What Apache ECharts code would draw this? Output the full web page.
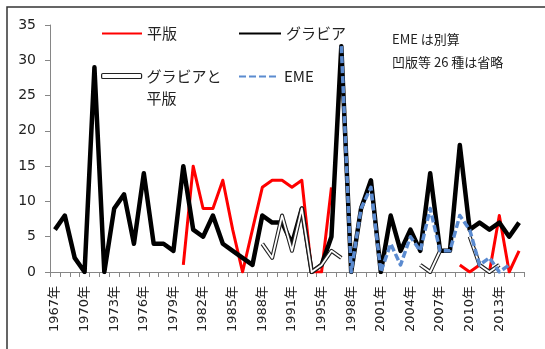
<!DOCTYPE html>
<html>
<head>
<meta charset="utf-8">
<script src="https://cdn.jsdelivr.net/npm/echarts@6/dist/echarts.min.js"></script>
<style>
html,body{margin:0;padding:0;background:#fff;}
#chart{width:545px;height:349px;}
</style>
</head>
<body>
<div id="chart"></div>
<script>
// categories (one year absent in the source table)
var years = ['1967年','1968年','1969年','1970年','1971年','1972年','1973年','1974年','1975年','1976年',
  '1977年','1978年','1979年','1980年','1981年','1982年','1983年','1984年','1985年','1986年',
  '1987年','1988年','1989年','1990年','1991年','1992年','1993年','1995年','1996年','1997年',
  '1998年','1999年','2000年','2001年','2002年','2003年','2004年','2005年','2006年','2007年',
  '2008年','2009年','2010年','2011年','2012年','2013年','2014年','2015年'];

// 平版 (lithography)
var heihan = [null,null,null,null,null,null,null,null,null,null,
  null,null,null,1,15,9,9,13,6,0,
  6,12,13,13,12,13,0,0,12,null,
  null,null,null,null,null,null,null,null,null,null,
  null,1,0,1,0,8,0,3];

// グラビア (gravure)
var gravure = [6,8,2,0,29,0,9,11,4,14,
  4,4,3,15,6,5,8,4,3,2,
  1,8,7,7,4,9,0,1,5,32,
  0,9,13,0,8,3,6,3,14,3,
  3,18,6,7,6,7,5,7];

// グラビアと平版 (gravure + lithography)
var gravHeihan = [null,null,null,null,null,null,null,null,null,null,
  null,null,null,null,null,null,null,null,null,null,
  null,4,2,8,3,9,0,1,3,2,
  null,null,null,null,null,null,null,1,0,3,
  null,null,5,1,0,1,null,null];

// EME
var eme = [null,null,null,null,null,null,null,null,null,null,
  null,null,null,null,null,null,null,null,null,null,
  null,null,null,null,null,null,null,null,null,32,
  0,9,12,0,4,1,5,3,9,3,
  3,8,6,1,2,0,1,null];

var yTicks = {min:0, max:35, interval:5};
var noteLines = ['EME は別算', '凹版等 26 種は省略'];

var chart = echarts.init(document.getElementById('chart'), null, {renderer:'canvas'});
var FONT = '"Noto Sans CJK JP", "Noto Sans", sans-serif';
var NUMFONT = '"DejaVu Sans", "Noto Sans CJK JP", sans-serif';
var legendText = {fontSize:15, color:'#222', fontFamily:FONT};
var hideSym = {opacity:0};

chart.setOption({
  animation:false,
  backgroundColor:'#fff',
  grid:{left:50, right:21, top:25, bottom:77},
  graphic:[
    {type:'rect', shape:{x:7, y:7, width:560, height:380}, style:{fill:'none', stroke:'#333', lineWidth:1.5}, silent:true},
    {type:'text', left:392, top:33, style:{text:noteLines[0], fontSize:13, fill:'#222', fontFamily:FONT}},
    {type:'text', left:392, top:56, style:{text:noteLines[1], fontSize:13, fill:'#222', fontFamily:FONT}}
  ],
  legend:[
    {data:[{name:'平版', itemStyle:hideSym}], left:101, top:26, padding:0, itemWidth:40, itemHeight:16, textStyle:legendText},
    {data:[{name:'グラビア', itemStyle:hideSym}], left:238, top:26, padding:0, itemWidth:42, itemHeight:16, textStyle:legendText},
    {data:[{name:'グラビアと平版', icon:'roundRect', itemStyle:{color:'#fff', borderColor:'#222', borderWidth:1.2}}],
      left:101, top:43, padding:0, itemWidth:40, itemHeight:5,
      formatter:function(){return '\nグラビアと\n平版';},
      textStyle:Object.assign({}, legendText, {lineHeight:22})},
    {data:[{name:'EME', itemStyle:hideSym}], left:238, top:69, padding:0, itemWidth:40, itemHeight:16, textStyle:legendText}
  ],
  xAxis:{
    type:'category', data:years, boundaryGap:true,
    axisLine:{lineStyle:{color:'#868686', width:1}},
    axisTick:{show:true, interval:0, length:5, lineStyle:{color:'#868686'}},
    axisLabel:{interval:2, rotate:90, fontSize:13, color:'#222', fontFamily:NUMFONT, margin:14}
  },
  yAxis:{
    type:'value', min:yTicks.min, max:yTicks.max, interval:yTicks.interval,
    splitLine:{show:false},
    axisLine:{show:true, lineStyle:{color:'#868686', width:1}},
    axisTick:{show:true, length:5, lineStyle:{color:'#868686'}},
    axisLabel:{fontSize:14, color:'#222', fontFamily:NUMFONT, margin:14}
  },
  series:[
    {name:'平版', type:'line', data:heihan, symbol:'none', connectNulls:false,
      lineStyle:{color:'#ff0000', width:3, join:'round'}, itemStyle:{color:'#ff0000'}, z:2},
    {name:'グラビア', type:'line', data:gravure, symbol:'none',
      lineStyle:{color:'#000', width:4.5, join:'round'}, itemStyle:{color:'#000'}, z:3},
    {name:'グラビアと平版', type:'line', data:gravHeihan, symbol:'none', connectNulls:false,
      lineStyle:{color:'#222', width:4, join:'round'}, itemStyle:{color:'#222'}, z:4},
    {name:'グラビアと平版', type:'line', data:gravHeihan, symbol:'none', connectNulls:false,
      lineStyle:{color:'#fff', width:1.8, join:'round'}, itemStyle:{color:'#fff'}, z:5},
    {name:'EME', type:'line', data:eme, symbol:'none', connectNulls:false,
      lineStyle:{color:'#5b8bd0', width:3.5, type:[7,3], join:'round'}, itemStyle:{color:'#5b8bd0'}, z:6}
  ]
});
</script>
</body>
</html>
